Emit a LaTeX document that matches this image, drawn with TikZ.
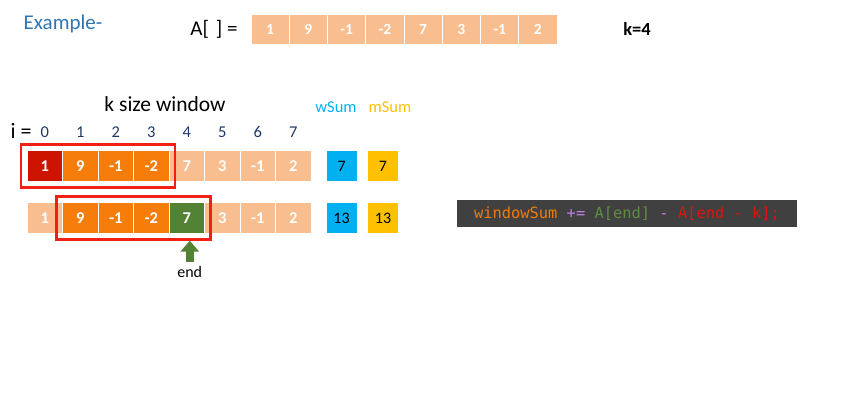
\documentclass[tikz,border=0pt]{standalone}
\usepackage{fontspec}
\setmainfont{Carlito}
\setmonofont{DejaVu Sans Mono}
\usetikzlibrary{positioning,arrows.meta,fit}

\definecolor{peach}{RGB}{249,190,144}
\definecolor{orng}{RGB}{246,125,10}
\definecolor{dkred}{RGB}{204,20,0}
\definecolor{grn}{RGB}{84,130,53}
\definecolor{skyblue}{RGB}{0,176,240}
\definecolor{gold}{RGB}{255,192,0}
\definecolor{boxred}{RGB}{240,32,20}
\definecolor{navy}{RGB}{31,56,100}
\definecolor{exblue}{RGB}{46,117,182}
\definecolor{codebg}{RGB}{64,64,64}
\definecolor{codeorange}{RGB}{240,124,10}
\definecolor{codepurple}{RGB}{190,130,220}
\definecolor{codegreen}{RGB}{96,140,66}
\definecolor{codered}{RGB}{222,20,12}

\begin{document}
\begin{tikzpicture}[x=1pt,y=-1pt,
    cell/.style={minimum width=35.5pt,minimum height=31pt,inner sep=0pt,
      draw=white,line width=0.8pt,text=white,font=\bfseries\fontsize{16.5}{18}\selectfont},
    topcell/.style={cell,minimum width=38.25pt,minimum height=30pt,fill=peach,
      font=\bfseries\fontsize{15.5}{17}\selectfont},
    sumbox/.style={minimum width=30pt,minimum height=30pt,inner sep=0pt,
      font=\fontsize{16}{18}\selectfont},
    winbox/.style={draw=boxred,line width=2.5pt,inner sep=5.5pt},
    idx/.style={text=navy,font=\fontsize{16.5}{18}\selectfont},
    endarrow/.style={draw=grn,line width=8pt,-{Triangle[length=11pt,width=18pt]}}]
\useasboundingbox (0,0) rectangle (864,403);

% Heading
\node[text=exblue,font=\fontsize{21}{24}\selectfont] (title) at (63,24) {Example-};
\node[font=\fontsize{21}{23}\selectfont] (alabel) at (214,29) {A[\,\,] =};
\foreach \v [count=\n from 0] in {1,9,-1,-2,7,3,-1,2}
  \node[topcell] (a\n) at ({270.1+38.25*\n},29) {\v};
\node[font=\bfseries\fontsize{18.5}{20}\selectfont] (kval) at (637,29) {k=4};

% Labels above the rows
\node[font=\fontsize{21.5}{24}\selectfont] (ksize) at (165,104) {k size window};
\node[font=\fontsize{22}{24}\selectfont] (ilabel) at (21,131) {i =};
\foreach \n in {0,...,7}
  \node[idx] (i\n) at ({44.75+35.5*\n},132) {\n};

% First window
\foreach \v/\c [count=\n from 0] in {1/dkred,9/orng,-1/orng,-2/orng,7/peach,3/peach,-1/peach,2/peach}
  \node[cell,fill=\c] (r\n) at ({44.75+35.5*\n},166) {\v};
\node[winbox,fit=(r0)(r3)] (win1) {};
\node[sumbox,fill=skyblue,right=15pt of r7] (w1) {7};
\node[sumbox,fill=gold,right=11pt of w1] (m1) {7};
\node[text=skyblue,font=\fontsize{16.5}{18}\selectfont] (wsum) at (336,107) {wSum};
\node[text=gold,font=\fontsize{16.5}{18}\selectfont] (msum) at (390,107) {mSum};

% Window slid by one
\foreach \v/\c [count=\n from 0] in {1/peach,9/orng,-1/orng,-2/orng,7/grn,3/peach,-1/peach,2/peach}
  \node[cell,fill=\c] (s\n) at ({44.75+35.5*\n},218) {\v};
\node[winbox,fit=(s1)(s4)] (win2) {};
\node[sumbox,fill=skyblue,right=15pt of s7] (w2) {13};
\node[sumbox,fill=gold,right=11pt of w2] (m2) {13};

% end pointer
\node[font=\fontsize{16}{18}\selectfont,below=29pt of s4,xshift=3pt] (endlbl) {end};
\draw[endarrow] ([yshift=1pt]endlbl.north) -- (endlbl.north |- win2.south);

% Update rule
\node[fill=codebg,minimum width=340pt,minimum height=27pt,inner sep=0pt,
  font=\ttfamily\fontsize{15.4}{17}\selectfont] (code) at (627,213.5)
  {\textcolor{codeorange}{windowSum} \textcolor{codepurple}{+=} \textcolor{codegreen}{A[end]} \textcolor{codepurple}{-} \textcolor{codered}{A[end - k];}};

\end{tikzpicture}
\end{document}
